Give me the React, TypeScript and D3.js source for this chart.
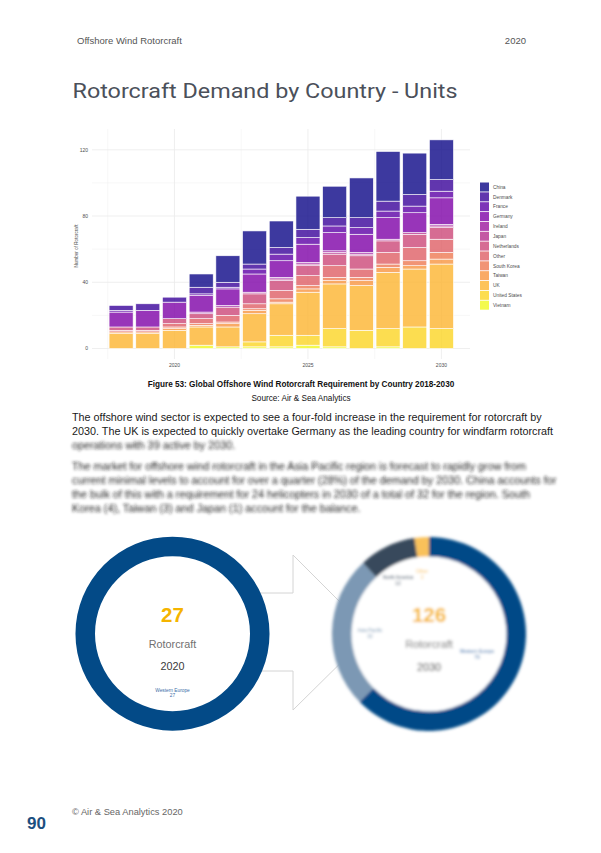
import * as React from "react";
import * as d3 from "d3";

// chart data (units of rotorcraft by country, 2018-2030)
const years = [2018, 2019, 2020, 2021, 2022, 2023, 2024, 2025, 2026, 2027, 2028, 2029, 2030];
const countries = [
  "China", "Denmark", "France", "Germany", "Ireland", "Japan", "Netherlands",
  "Other", "South Korea", "Taiwan", "UK", "United States", "Vietnam",
];
const china = [0, 0, 0, 8, 16, 20, 16, 20, 19, 24, 30, 25, 24];
const denmark = [3, 4, 3, 4, 3, 3, 4, 5, 5, 6, 6, 7, 7];
const france = [1, 0, 0, 1, 1, 3, 4, 4, 4, 4, 4, 4, 4];
const germany = [9, 10, 10, 10, 10, 11, 10, 11, 11, 11, 13, 12, 16];
const ireland = [0, 0, 0, 1, 1, 0, 1, 1, 1, 1, 0, 0, 1];
const japan = [0, 0, 0, 0, 0, 1, 1, 1, 1, 1, 1, 1, 1];
const netherlands = [2, 2, 3, 3, 5, 6, 6, 6, 7, 8, 7, 8, 7];
const other = [1, 1, 2, 3, 4, 3, 5, 6, 7, 5, 7, 8, 8];
const southKorea = [0, 0, 1, 1, 1, 1, 2, 2, 2, 2, 2, 3, 4];
const taiwan = [1, 1, 1, 1, 2, 2, 1, 2, 2, 3, 3, 2, 3];
const uk = [9, 9, 11, 11, 12, 17, 19, 26, 27, 27, 34, 35, 39];
const unitedStates = [0, 0, 0, 0, 0, 3, 7, 6, 11, 11, 11, 13, 12];
const vietnam = [0, 0, 0, 2, 1, 1, 1, 2, 1, 0, 1, 0, 0];
const xTicks = [2020, 2025, 2030];
const yTicks = [0, 40, 80, 120];

// donut data
const regions2020 = ["Western Europe"];
const values2020 = [27];
const regions2030 = ["Western Europe", "Asia Pacific", "North America", "Other"];
const values2030 = [79, 32, 12, 3];
const regionColors = ["#034a87", "#7b98b4", "#37495c", "#f9c15a"];

const paragraph1 = [
  "The offshore wind sector is expected to see a four-fold increase in the requirement for rotorcraft by",
  "2030. The UK is expected to quickly overtake Germany as the leading country for windfarm rotorcraft",
];
const paragraph1Blur = ["operations with 39 active by 2030."];
const paragraph2 = [
  "The market for offshore wind rotorcraft in the Asia Pacific region is forecast to rapidly grow from",
  "current minimal levels to account for over a quarter (28%) of the demand by 2030. China accounts for",
  "the bulk of this with a requirement for 24 helicopters in 2030 of a total of 32 for the region. South",
  "Korea (4), Taiwan (3) and Japan (1) account for the balance.",
];

const series = [china, denmark, france, germany, ireland, japan, netherlands, other, southKorea, taiwan, uk, unitedStates, vietnam];

const font = "'Liberation Sans', Arial, sans-serif";

function StackedChart() {
  const rows = years.map((yr, i) => {
    const r: any = { year: yr };
    countries.forEach((c, k) => (r[c] = series[k][i]));
    return r;
  });
  // ggplot stacks the first level on top
  const keys = countries.slice().reverse();
  const stacked = d3.stack<any>().keys(keys)(rows);

  const x = d3.scaleLinear().domain([2016.91, 2031.07]).range([92, 470]);
  const y = d3.scaleLinear().domain([0, 120]).range([348.5, 149.8]);
  const color = (c: string) => d3.interpolatePlasma(countries.indexOf(c) / (countries.length - 1));
  const bw = x(2018.9) - x(2018);

  const majorY = yTicks;
  const minorY = [20, 60, 100];
  const minorX = [2017.5, 2022.5, 2027.5];

  return (
    <g>
      {minorY.map((v) => (
        <line key={"my" + v} x1={92} x2={470} y1={y(v)} y2={y(v)} stroke="#f2f2f2" strokeWidth={0.6} />
      ))}
      {minorX.map((v) => (
        <line key={"mx" + v} x1={x(v)} x2={x(v)} y1={129} y2={359} stroke="#f2f2f2" strokeWidth={0.6} />
      ))}
      {majorY.map((v) => (
        <line key={"gy" + v} x1={92} x2={470} y1={y(v)} y2={y(v)} stroke="#ebebeb" strokeWidth={0.8} />
      ))}
      {xTicks.map((v) => (
        <line key={"gx" + v} x1={x(v)} x2={x(v)} y1={129} y2={359} stroke="#ebebeb" strokeWidth={0.8} />
      ))}

      {stacked.map((s) => (
        <g key={s.key}>
          {s.map((d, i) =>
            d[1] - d[0] > 0 ? (
              <rect
                key={i}
                x={x(years[i]) - bw / 2}
                y={y(d[1])}
                width={bw}
                height={y(d[0]) - y(d[1])}
                fill={color(s.key)}
                fillOpacity={0.8}
                stroke="#ffffff"
                strokeWidth={0.6}
              />
            ) : null
          )}
        </g>
      ))}

      {yTicks.map((v) => (
        <text key={"yt" + v} x={88} y={y(v) + 1.8} textAnchor="end" fontSize={5} fill="#4d4d4d" fontFamily={font}>
          {v}
        </text>
      ))}
      {xTicks.map((v) => (
        <text key={"xt" + v} x={x(v)} y={367} textAnchor="middle" fontSize={5} fill="#4d4d4d" fontFamily={font}>
          {v}
        </text>
      ))}
      <text
        transform="translate(77.5,246) rotate(-90)"
        textAnchor="middle"
        fontSize={4.6}
        fill="#4d4d4d"
        fontFamily={font}
      >
        Number of Rotorcraft
      </text>

      {countries.map((c, i) => (
        <g key={"lg" + c} transform={`translate(480,${182.5 + i * 9.85})`}>
          <rect width={9} height={9} fill={color(c)} fillOpacity={0.8} />
          <text x={13} y={6.3} fontSize={4.8} fill="#4d4d4d" fontFamily={font}>
            {c}
          </text>
        </g>
      ))}
    </g>
  );
}

function Donut({ cx, cy, names, values, year, blur }: any) {
  const pie = d3.pie<number>().sort(null).startAngle(0).endAngle(2 * Math.PI);
  const arc = d3.arc<any>().innerRadius(77.5).outerRadius(97);
  const arcs = pie(values);
  const total = d3.sum(values);
  const labelPos2030: [number, number][] = [
    [48, 19],
    [-59, -2],
    [-31, -55],
    [-7, -61],
  ];
  return (
    <g transform={`translate(${cx},${cy})`} filter={blur ? "url(#blurDonut)" : undefined}>
      <circle r={78} fill="#ffffff" />
      {arcs.map((a, i) => (
        <path key={i} d={arc(a) as string} fill={regionColors[i]} />
      ))}
      <text y={-12} textAnchor="middle" fontSize={20.5} fontWeight="bold" fill="#f5b400" fontFamily={font}>
        {total}
      </text>
      <text y={14} textAnchor="middle" fontSize={10.8} fill="#707070" fontFamily={font}>
        Rotorcraft
      </text>
      <text y={36.5} textAnchor="middle" fontSize={10.8} fill="#3a3a3a" fontFamily={font}>
        {year}
      </text>
      {names.map((n: string, i: number) => {
        const p = values.length === 1 ? [0, 58] : labelPos2030[i];
        const col = i === 0 ? "#3c6ea8" : regionColors[i];
        return (
          <g key={n}>
            <text x={p[0]} y={p[1]} textAnchor="middle" fontSize={4.8} fill={col} fontFamily={font}>
              {n}
            </text>
            <text x={p[0]} y={p[1] + 5.5} textAnchor="middle" fontSize={4.8} fill={col} fontFamily={font}>
              {values[i]}
            </text>
          </g>
        );
      })}
    </g>
  );
}

export default function App() {
  return (
    <svg
      width={601}
      height={853}
      style={{ position: "absolute", left: 0, top: 0, background: "#ffffff" }}
    >
      <defs>
        <filter id="blurText" x="-5%" y="-50%" width="110%" height="200%">
          <feGaussianBlur stdDeviation={1.4} />
        </filter>
        <filter id="blurDonut" x="-20%" y="-20%" width="140%" height="140%">
          <feGaussianBlur stdDeviation={1.8} />
        </filter>
      </defs>
      <rect width={601} height={853} fill="#ffffff" />

      <text x={77} y={44} fontSize={9.5} fill="#555555" fontFamily={font}>
        Offshore Wind Rotorcraft
      </text>
      <text x={526} y={44} fontSize={9.5} fill="#555555" fontFamily={font} textAnchor="end">
        2020
      </text>
      <text
        x={72.5}
        y={97.5}
        fontSize={20.5}
        fill="#4b505a"
        fontFamily="Roboto, 'Liberation Sans', sans-serif"
        textLength={385}
        lengthAdjust="spacingAndGlyphs"
      >
        Rotorcraft Demand by Country - Units
      </text>

      <StackedChart />

      <text x={301} y={386.5} textAnchor="middle" fontSize={8.2} fontWeight="bold" fill="#111111" fontFamily={font}>
        Figure 53: Global Offshore Wind Rotorcraft Requirement by Country 2018-2030
      </text>
      <text x={301} y={400.5} textAnchor="middle" fontSize={8.2} fill="#111111" fontFamily={font}>
        Source: Air &amp; Sea Analytics
      </text>

      {paragraph1.map((l, i) => (
        <text key={"p1" + i} x={72} y={421 + i * 14} fontSize={10.8} fill="#1a1a1a" fontFamily={font}>
          {l}
        </text>
      ))}
      <g filter="url(#blurText)">
        {paragraph1Blur.map((l, i) => (
          <text key={"p1b" + i} x={72} y={449} fontSize={10.8} fill="#1a1a1a" fontFamily={font}>
            {l}
          </text>
        ))}
        {paragraph2.map((l, i) => (
          <text key={"p2" + i} x={72} y={470 + i * 14} fontSize={10.8} fill="#1a1a1a" fontFamily={font}>
            {l}
          </text>
        ))}
      </g>

      {/* arrow between the two donuts */}
      <polygon
        points="240,593 293,593 293,555 371,633 293,710 293,671 240,671"
        fill="#ffffff"
        stroke="#d4d4d4"
        strokeWidth={1}
      />

      <Donut cx={172.5} cy={633.7} names={regions2020} values={values2020} year={2020} blur={false} />
      <Donut cx={429} cy={634} names={regions2030} values={values2030} year={2030} blur={true} />

      <text x={27} y={829} fontSize={17} fontWeight="bold" fill="#1c4f80" fontFamily={font}>
        90
      </text>
      <text x={72} y={815} fontSize={9.3} fill="#666666" fontFamily={font}>
        © Air &amp; Sea Analytics 2020
      </text>
    </svg>
  );
}
